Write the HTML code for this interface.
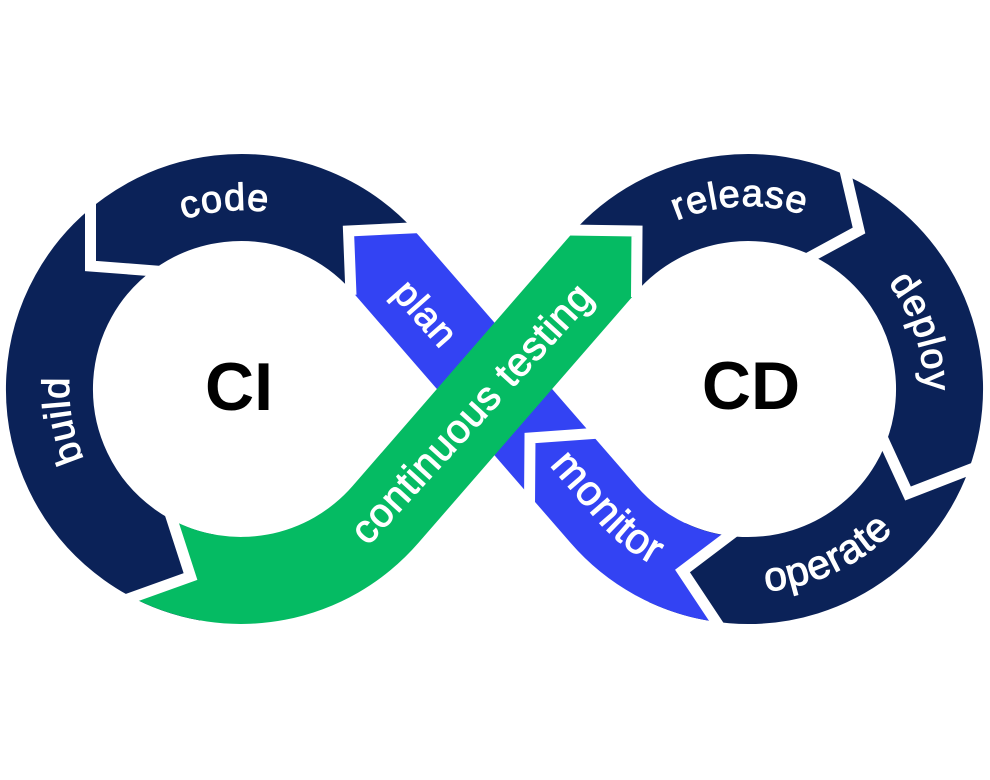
<!DOCTYPE html>
<html><head><meta charset="utf-8"><style>
html,body{margin:0;padding:0;background:#fff;}
svg{display:block;}
.lbl{font-family:"Liberation Sans",Arial,sans-serif;font-size:38px;fill:#fff;stroke:#fff;stroke-width:1px;letter-spacing:0.8px;}
.big{font-family:"Liberation Sans",Arial,sans-serif;font-weight:bold;font-size:68px;fill:#000;}
</style></head><body>
<svg width="990" height="780" viewBox="0 0 990 780" xmlns="http://www.w3.org/2000/svg">
<defs>
<path id="pCode" d="M 78.8,313.4 A 179 179 0 0 1 387.6,286.3"/>
<path id="pBuild" d="M 182.2,550.6 A 172 172 0 0 1 130.4,257.2"/>
<path id="pRelease" d="M 585.7,304.5 A 183 183 0 0 1 902.3,290.7"/>
<path id="pDeploy" d="M 782.9,216.5 A 177 177 0 0 1 879.5,507.4"/>
<path id="pOperate" d="M 633,556.3 A 203 203 0 0 0 950.4,404.9"/>
<path id="pMonitor" d="M 498.8,406.9 L 597.1,520.2 A 200 200 0 0 0 848,562.2"/>
</defs>

<!-- navy rings -->
<path d="M 207.75,577.6 A 191.5 191.5 0 1 1 383.3,260.9" fill="none" stroke="#0b2258" stroke-width="87"/>
<path d="M 603.5,263.4 A 191.5 191.5 0 1 1 667.1,562.6" fill="none" stroke="#0b2258" stroke-width="87"/>

<!-- blue: plan + monitor -->
<path d="M 412,228 L 418.4,235.1 L 636.3,485.9 A 148 148 0 0 0 728.5,536 L 682.5,571 L 712.9,621.4 A 235 235 0 0 1 570.6,542.9 L 352.7,292.1 L 350.5,287 L 348.5,231 Z" fill="#3343f3"/>

<!-- green: continuous testing -->
<path d="M 574.5,230 L 637,231 L 636.5,290.5 L 636.3,292.1 L 418.4,542.9 A 235 235 0 0 1 132.7,597.6 L 190.5,576.5 L 170.8,519.3 A 148 148 0 0 0 352.7,485.9 L 570.6,235.1 Z" fill="#05bb63"/>

<!-- white separators -->
<g fill="none" stroke="#fff" stroke-width="11" stroke-linejoin="miter" stroke-miterlimit="10">
<polyline points="90.5,188 90.5,266 168,272"/>
<polyline points="114,604 190.5,576.5 167,504"/>
<polyline points="421,227.5 348.5,231 351,295"/>
<polyline points="529.5,504 530,438 600,433"/>
<polyline points="568,230 637,231 636.5,297"/>
<polyline points="843,162 859,230.5 801.5,261.7"/>
<polyline points="880,432.6 908,493.5 982.5,464.6"/>
<polyline points="738,529 682.5,571 720,627.5"/>
</g>

<!-- labels -->
<text class="lbl" text-anchor="middle"><textPath href="#pCode" startOffset="50%">code</textPath></text>
<text class="lbl" text-anchor="middle"><textPath href="#pBuild" startOffset="50%">build</textPath></text>
<text class="lbl" text-anchor="middle"><textPath href="#pRelease" startOffset="50%">release</textPath></text>
<text class="lbl" text-anchor="middle"><textPath href="#pDeploy" startOffset="50%">deploy</textPath></text>
<text class="lbl" text-anchor="middle" style="font-size:41px"><textPath href="#pOperate" startOffset="50%">operate</textPath></text>
<text class="lbl" text-anchor="middle" style="font-size:42px"><textPath href="#pMonitor" startOffset="150">monitor</textPath></text>
<text class="lbl" text-anchor="middle" transform="translate(416,322) rotate(48.5)">plan</text>
<text class="lbl" text-anchor="middle" style="font-size:40px" transform="translate(481.5,422.3) rotate(-47.5)">continuous testing</text>

<text class="big" x="239" y="410" text-anchor="middle">CI</text>
<text class="big" x="751" y="409" text-anchor="middle">CD</text>
</svg>
</body></html>
